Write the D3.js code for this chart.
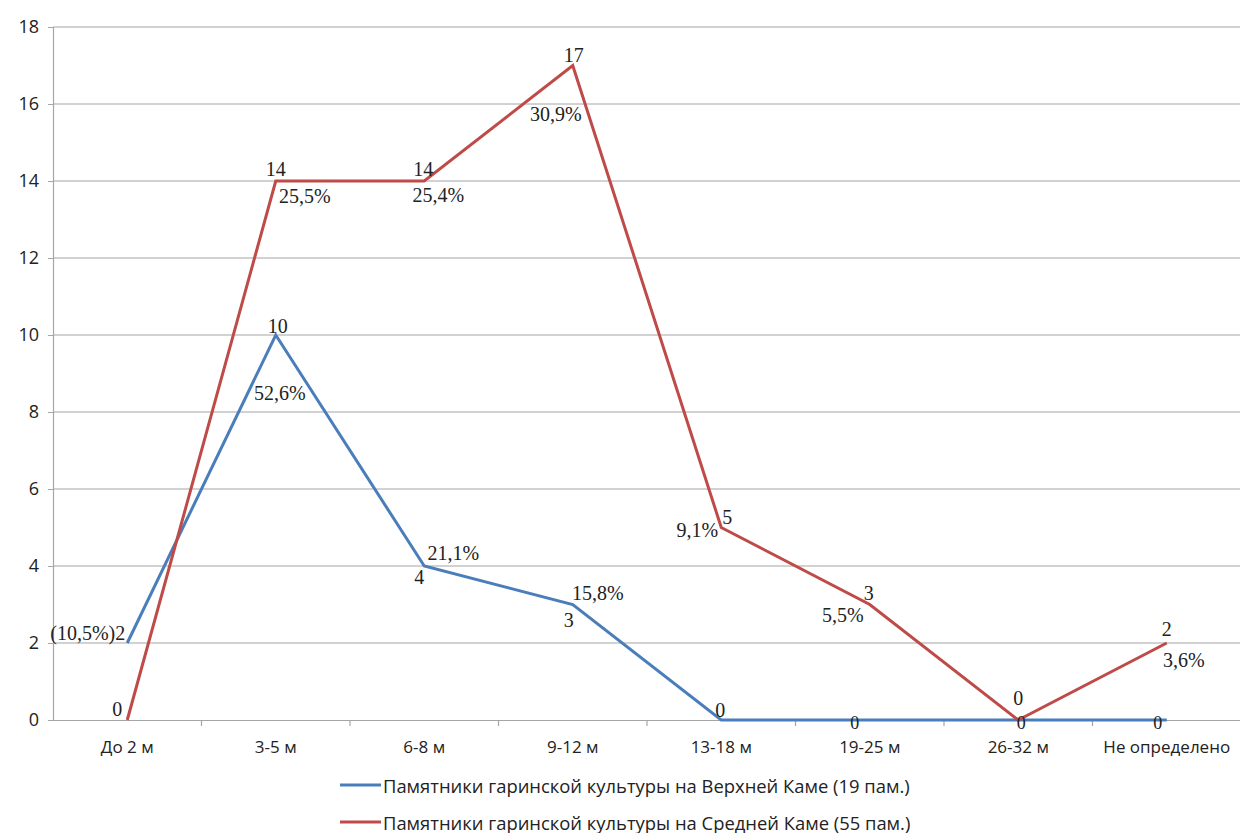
<!DOCTYPE html>
<html><head><meta charset="utf-8">
<script src="https://cdn.jsdelivr.net/npm/d3@7"></script>
<style>
body{margin:0;background:#fff;}
.tick text{font-family:"Open Sans",sans-serif;}
</style>
</head><body>
<svg id="chart" width="1240" height="833"></svg>
<script>
const categories = ["До 2 м","3-5 м","6-8 м","9-12 м","13-18 м","19-25 м","26-32 м","Не определено"];
const upperKama = [2,10,4,3,0,0,0,0];
const middleKama = [0,14,14,17,5,3,0,2];
const upperValueLabels = ["(10,5%)2","10","4","3","0","0","0","0"];
const upperPctLabels = ["","52,6%","21,1%","15,8%","","","",""];
const middleValueLabels = ["0","14","14","17","5","3","0","2"];
const middlePctLabels = ["","25,5%","25,4%","30,9%","9,1%","5,5%","","3,6%"];
const yTicks = [0,2,4,6,8,10,12,14,16,18];
const seriesNames = ["Памятники гаринской культуры на Верхней Каме (19 пам.)","Памятники гаринской культуры на Средней Каме (55 пам.)"];

// label placement (dx, dy, anchor, size) relative to each point
const upperValPos = [[-2,-10,"end"],[2,-9,"middle"],[-5,11,"middle"],[-4,15,"middle"],[-1,-10,"middle"],[-15,3,"middle",18],[3,3,"middle",18],[-9,3,"middle",18]];
const upperPctPos = [null,[4,58,"middle"],[29,-13,"middle"],[25,-12,"middle"],null,null,null,null];
const middleValPos = [[-10,-11,"middle"],[0,-12,"middle"],[-1,-12,"middle"],[1,-11,"middle"],[6,-11,"middle"],[-1,-12,"middle"],[0,-22,"middle"],[0,-14,"middle"]];
const middlePctPos = [null,[29,15,"middle"],[14,14,"middle"],[-17,48,"middle"],[-24,2,"middle"],[-27,10,"middle"],null,[17,17,"middle"]];

const svg = d3.select("#chart");
const mLeft = 53, mRight = 1241, mTop = 27, mBottom = 720;
const x = d3.scaleBand().domain(categories).range([mLeft,mRight]).paddingInner(0).paddingOuter(0);
const y = d3.scaleLinear().domain([0,18]).range([mBottom,mTop]);
const cx = c => x(c) + x.bandwidth()/2;

// gridlines
svg.append("g").selectAll("line").data(yTicks.filter(d=>d>0)).join("line")
  .attr("x1",mLeft).attr("x2",1240).attr("y1",d=>y(d)).attr("y2",d=>y(d))
  .attr("stroke","#a6a6a6").attr("stroke-width",1.2);

// y axis
const ya = svg.append("g").attr("transform",`translate(${mLeft},0)`)
  .call(d3.axisLeft(y).tickValues(yTicks).tickSize(5).tickPadding(9));
ya.select(".domain").attr("stroke","#a6a6a6").attr("stroke-width",1.2);
ya.selectAll(".tick line").attr("stroke","#a6a6a6");
ya.selectAll(".tick text").attr("font-size",18).attr("fill","#222");

// x axis
const xa = svg.append("g").attr("transform",`translate(0,${mBottom})`)
  .call(d3.axisBottom(x).tickSize(0).tickPadding(21));
xa.select(".domain").attr("stroke","#a6a6a6").attr("stroke-width",1.2);
xa.selectAll(".tick text").attr("font-size",17).attr("fill","#222");
svg.append("g").selectAll("line").data(categories.slice(1)).join("line")
  .attr("x1",d=>x(d)).attr("x2",d=>x(d)).attr("y1",mBottom).attr("y2",mBottom+6)
  .attr("stroke","#a6a6a6").attr("stroke-width",1.2);

const colors = ["#4a7ebb","#be4b48"];
const line = d3.line().x((d,i)=>cx(categories[i])).y(d=>y(d));
[upperKama, middleKama].forEach((s,k)=>{
  svg.append("path").datum(s).attr("d",line).attr("fill","none")
    .attr("stroke",colors[k]).attr("stroke-width",3).attr("stroke-linejoin","miter");
});

function labels(values, texts, pos){
  svg.append("g").selectAll("text").data(values.map((v,i)=>({v,i,t:texts[i],p:pos[i]})).filter(d=>d.t && d.p)).join("text")
    .attr("x",d=>cx(categories[d.i])+d.p[0]).attr("y",d=>y(d.v)+d.p[1])
    .attr("text-anchor",d=>d.p[2]).attr("dominant-baseline","central")
    .attr("font-family","'Liberation Serif','Times New Roman',serif").attr("font-size",d=>d.p[3]||20).attr("fill","#222")
    .text(d=>d.t);
}
labels(upperKama, upperValueLabels, upperValPos);
labels(upperKama, upperPctLabels, upperPctPos);
labels(middleKama, middleValueLabels, middleValPos);
labels(middleKama, middlePctLabels, middlePctPos);

// legend
const lg = svg.append("g");
seriesNames.forEach((n,k)=>{
  const ly = 785 + k*37;
  lg.append("line").attr("x1",340).attr("x2",381).attr("y1",ly).attr("y2",ly).attr("stroke",colors[k]).attr("stroke-width",3);
  lg.append("text").attr("x",383).attr("y",ly).attr("dominant-baseline","central")
    .attr("font-family","'Open Sans',sans-serif").attr("font-size",18.4).attr("fill","#222").text(n);
});
</script>
</body></html>
